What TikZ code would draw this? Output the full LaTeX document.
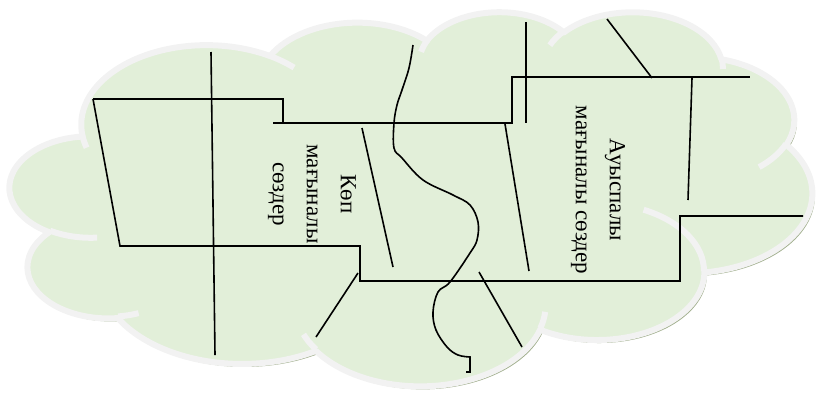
\documentclass[tikz,border=0pt]{standalone}
\usepackage{fontspec}
\setmainfont{Liberation Serif}
\definecolor{cloudgreen}{RGB}{226,239,217}
\definecolor{cloudedge}{RGB}{242,242,242}
\definecolor{cloudshade}{RGB}{160,174,140}

\newcommand\cloudangles[4]{%
  \pgfmathparse{atan2((#1)*sin(#3),(#2)*cos(#3))}\global\let\cloudst\pgfmathresult
  \pgfmathparse{atan2((#1)*sin((#3)+(#4)),(#2)*cos((#3)+(#4)))}\global\let\cloudend\pgfmathresult
  \pgfmathparse{(\cloudend)-(\cloudst)+360*round(((#4)-(\cloudend)+(\cloudst))/360)}\global\let\clouddelta\pgfmathresult}
\newcommand\cloudarc[4]{\pgfextra{\cloudangles{#1}{#2}{#3}{#4}} arc[start angle=\cloudst, delta angle=\clouddelta, x radius=#1, y radius=#2]}

\begin{document}
\begin{tikzpicture}[x=1pt,y=-1pt,
  crack/.style={black, line width=1.6pt},
  cloudline/.style={draw=cloudedge, line width=6pt, line join=round},
  words/.style={rotate=-90, align=center, font=\fontsize{23}{34}\selectfont}]
\useasboundingbox (0,0) rectangle (816,392);

\begin{scope}[shift={(10,11)}, x=1.8565pt, y=-0.8657pt]
\def\cloudpath{(39,143.7)
  \cloudarc{67.53}{91.90}{-190.4875}{123.7805}
  \cloudarc{53.33}{72.67}{-144.1024}{89.9452}
  \cloudarc{43.65}{59.45}{-145.8079}{99.7230}
  \cloudarc{48.57}{65.95}{-130.9861}{117.2417}
  \cloudarc{53.33}{72.73}{-78.7089}{109.0269}
  \cloudarc{67.75}{92.20}{-46.2673}{130.2690}
  \cloudarc{57.85}{78.67}{0.6250}{114.0333}
  \cloudarc{67.52}{92.15}{22.4516}{115.1726}
  \cloudarc{77.20}{105.43}{66.2426}{75.7110}
  \cloudarc{43.60}{59.18}{-274.9421}{146.7356}
  \cloudarc{43.45}{59.45}{-246.8285}{152.5189} -- cycle}
\fill[cloudshade, shift={(2.5pt,-3pt)}] \cloudpath;
\path[cloudline, fill=cloudgreen] \cloudpath;
\draw[cloudline] (46.93,261.77) \cloudarc{43.45}{59.45}{86.7420}{26.4295}
  (69.28,348.99) \cloudarc{43.60}{59.18}{73.6105}{11.4475}
  (164.78,390.90) \cloudarc{67.52}{92.15}{137.6242}{14.0811}
  (288.27,347.51) \cloudarc{67.52}{92.15}{6.4533}{15.9984}
  (341.29,229.54) \cloudarc{57.85}{78.67}{-70.2924}{70.9174}
  (417.98,153.54) \cloudarc{53.33}{72.73}{30.3180}{27.7515}
  (383.24,54.26) \cloudarc{48.57}{65.95}{-13.7443}{14.8589}
  (290.78,39.52) \cloudarc{48.57}{65.95}{-149.1815}{18.1954}
  (221.41,47.20) \cloudarc{43.65}{59.45}{-163.4943}{17.6864}
  (140.00,51.92) \cloudarc{67.53}{91.90}{-66.7070}{12.3194}
  (41.27,157.89) \cloudarc{67.53}{91.90}{157.6544}{11.8582};
\end{scope}

\draw[crack] (93,99) -- (283,99) -- (283,123);
\draw[crack] (273,123) -- (512,123) -- (512,77) -- (750,77);
\draw[crack] (93,99) -- (120,246) -- (360,246) -- (360,281) -- (680,281) -- (680,216) -- (803,216);
\draw[crack] (211,52) -- (215,355);
\draw[crack] (362,128) -- (393,267);
\draw[crack] (505,124) -- (529,271);
\draw[crack] (526,22) -- (526,123);
\draw[crack] (607,19) -- (652,78);
\draw[crack] (692,78) -- (688,200);
\draw[crack] (358,273) -- (316,337);
\draw[crack] (479,272) -- (522,347);
\draw[crack] plot[smooth, tension=0.6] coordinates {(413,45) (409,68) (402,90) (397,105) (394,123)
  (394,148) (402,158) (423,180) (453,195) (470,205) (478,222) (477,240) (470,253) (450,282)
  (438,292) (433,312) (436,330) (447,347) (458,355) (470,357)} -- (470,372) -- (466,372);

\node[words] (kop) at (312,194) {Көп\\мағыналы\\сөздер};
\node[words] (auys) at (598,190) {Ауыспалы\\мағыналы сөздер};
\end{tikzpicture}
\end{document}
